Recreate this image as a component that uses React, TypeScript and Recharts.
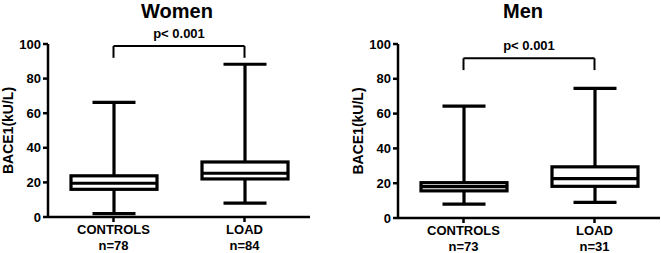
import React from 'react'
import { ComposedChart, Bar, XAxis, YAxis, ReferenceLine } from 'recharts'

// categories and summary stats
const categories = ['CONTROLS', 'LOAD']
const yTicks = [0, 20, 40, 60, 80, 100]

const womenN = [78, 84]
const womenMin = [2, 8]
const womenQ1 = [16, 22]
const womenMedian = [19.5, 25.3]
const womenQ3 = [23.8, 31.8]
const womenMax = [66.3, 88.3]

const menN = [73, 31]
const menMin = [8, 9]
const menQ1 = [15.6, 18.2]
const menMedian = [18, 22.6]
const menQ3 = [20.3, 29.4]
const menMax = [64.3, 74.5]

// bracket levels (top / leg end) for the p-value annotation
const womenBracket = [98.8, 92]
const menBracket = [91.8, 85]
const pText = 'p< 0.001'

const FONT = "Arial, 'Liberation Sans', sans-serif"

const buildRows = (n: number[], mn: number[], q1: number[], med: number[], q3: number[], mx: number[]) =>
  categories.map((name, i) => ({
    name,
    n: n[i],
    min: mn[i],
    q1: q1[i],
    median: med[i],
    q3: q3[i],
    max: mx[i],
  }))

// box + whiskers drawn from the range bar geometry (min..max)
const BoxShape = (props: any) => {
  const { x, y, width, height, payload } = props
  if (x == null || y == null) return null
  const top = Math.min(y, y + height)
  const h = Math.abs(height)
  const ppu = h / (payload.max - payload.min)
  const toY = (v: number) => top + (payload.max - v) * ppu
  const cx = x + width / 2
  const capHalf = width / 4
  return (
    <g stroke="#000" strokeWidth={3.2} fill="none">
      <line x1={cx} x2={cx} y1={toY(payload.max)} y2={toY(payload.min)} />
      <line x1={cx - capHalf} x2={cx + capHalf} y1={toY(payload.max)} y2={toY(payload.max)} />
      <line x1={cx - capHalf} x2={cx + capHalf} y1={toY(payload.min)} y2={toY(payload.min)} />
      <rect x={x} y={toY(payload.q3)} width={width} height={toY(payload.q1) - toY(payload.q3)} fill="#fff" />
      <line x1={x} x2={x + width} y1={toY(payload.median)} y2={toY(payload.median)} />
    </g>
  )
}

const makeXTick = (rows: any[]) => (props: any) => {
  const { x, y, payload } = props
  const row = rows.find((r) => r.name === payload.value)
  return (
    <text x={x} y={y} textAnchor="middle" fontFamily={FONT} fontWeight="bold" fontSize={13} fill="#000">
      <tspan x={x} dy={10}>{payload.value}</tspan>
      <tspan x={x} dy={16}>n={row ? row.n : ''}</tspan>
    </text>
  )
}

const YLabel = (props: any) => {
  const { viewBox } = props
  const cy = viewBox.y + viewBox.height / 2
  const lx = 13
  return (
    <text
      x={lx}
      y={cy}
      transform={`rotate(-90, ${lx}, ${cy})`}
      textAnchor="middle"
      fontFamily={FONT}
      fontWeight="bold"
      fontSize={14}
      fill="#000"
    >
      BACE1(kU/L)
    </text>
  )
}

interface PanelProps {
  rows: any[]
  bracket: number[]
  width: number
  right: number
  bottomZero: number
}

const Panel = ({ rows, bracket, width, right, bottomZero }: PanelProps) => {
  const tickStyle = { fontFamily: FONT, fontWeight: 'bold', fontSize: 13, fill: '#000' }
  return (
    <ComposedChart
      width={width}
      height={253}
      data={rows}
      margin={{ top: 44, right, bottom: 0, left: 0 }}
    >
      <XAxis
        dataKey="name"
        type="category"
        axisLine={{ stroke: '#000', strokeWidth: 2.5 }}
        tickLine={{ stroke: '#000', strokeWidth: 2.5 }}
        tickSize={5}
        tick={makeXTick(rows)}
        height={253 - bottomZero}
        interval={0}
      />
      <YAxis
        type="number"
        domain={[0, 100]}
        ticks={yTicks}
        width={48}
        axisLine={{ stroke: '#000', strokeWidth: 2.5 }}
        tickLine={{ stroke: '#000', strokeWidth: 2.5 }}
        tickSize={5}
        tick={tickStyle}
        allowDataOverflow
        label={{ content: YLabel }}
      />
      <Bar
        dataKey={(d: any) => [d.min, d.max]}
        barSize={86}
        shape={BoxShape}
        isAnimationActive={false}
      />
      <ReferenceLine
        segment={[
          { x: categories[0], y: bracket[0] },
          { x: categories[1], y: bracket[0] },
        ]}
        stroke="#000"
        strokeWidth={2}
        ifOverflow="visible"
        label={{
          value: pText,
          position: 'top',
          offset: 8,
          style: { fontFamily: FONT, fontWeight: 'bold', fontSize: 13, fill: '#000' },
        }}
      />
      <ReferenceLine
        segment={[
          { x: categories[0], y: bracket[0] },
          { x: categories[0], y: bracket[1] },
        ]}
        stroke="#000"
        strokeWidth={2}
        ifOverflow="visible"
      />
      <ReferenceLine
        segment={[
          { x: categories[1], y: bracket[0] },
          { x: categories[1], y: bracket[1] },
        ]}
        stroke="#000"
        strokeWidth={2}
        ifOverflow="visible"
      />
    </ComposedChart>
  )
}

const titleStyle: React.CSSProperties = {
  position: 'absolute',
  top: 0,
  fontFamily: FONT,
  fontWeight: 'bold',
  fontSize: 20,
  lineHeight: '23px',
  textAlign: 'center',
  width: 200,
}

export default function App() {
  const women = buildRows(womenN, womenMin, womenQ1, womenMedian, womenQ3, womenMax)
  const men = buildRows(menN, menMin, menQ1, menMedian, menQ3, menMax)
  return (
    <div style={{ position: 'absolute', left: 0, top: 0, width: 661, height: 253, background: '#fff', overflow: 'hidden' }}>
      <div style={{ ...titleStyle, left: 177 - 100 }}>Women</div>
      <div style={{ ...titleStyle, left: 523 - 100 }}>Men</div>
      <div style={{ position: 'absolute', left: 0, top: 0 }}>
        <Panel rows={women} bracket={womenBracket} width={330} right={20} bottomZero={217} />
      </div>
      <div style={{ position: 'absolute', left: 350, top: 0 }}>
        <Panel rows={men} bracket={menBracket} width={311} right={1} bottomZero={218} />
      </div>
    </div>
  )
}
